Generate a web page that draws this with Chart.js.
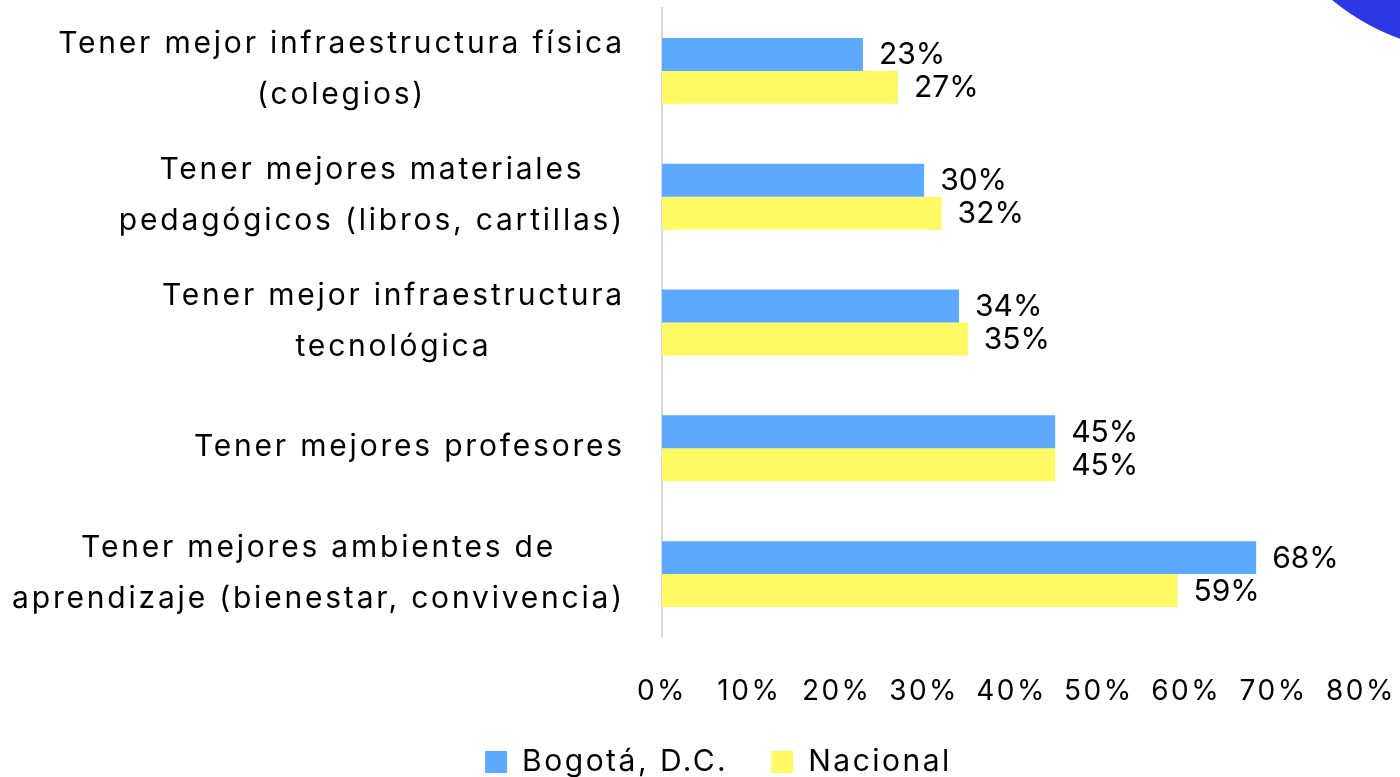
<!DOCTYPE html>
<html><head><meta charset="utf-8">
<script src="https://cdn.jsdelivr.net/npm/chart.js@4.4.1/dist/chart.umd.min.js"></script>
<style>html,body{margin:0;padding:0;background:#fff;overflow:hidden}#wrap{width:1400px;height:777px;position:relative}</style>
</head><body><div id="wrap"><canvas id="c" width="1400" height="777"></canvas></div>
<script>
const categories = [
  ["Tener mejor infraestructura física", "(colegios)"],
  ["Tener mejores materiales", "pedagógicos (libros, cartillas)"],
  ["Tener mejor infraestructura", "tecnológica"],
  ["Tener mejores profesores"],
  ["Tener mejores ambientes de", "aprendizaje (bienestar, convivencia)"]
];
const bogota = [23, 30, 34, 45, 68];
const nacional = [27, 32, 35, 45, 59];
const xTickValues = [0, 10, 20, 30, 40, 50, 60, 70, 80];
const seriesNames = ["Bogotá, D.C.", "Nacional"];

const FONT = "Inter, 'Liberation Sans', sans-serif";
const BLUE = '#5DA9FF';
const YELLOW = '#FFFA63';
const SPACING = '2.5px';

const spacingPlugin = {
  id: 'spacing',
  beforeLayout(chart) { chart.ctx.letterSpacing = SPACING; },
  beforeDraw(chart) { chart.ctx.letterSpacing = SPACING; }
};

const decoPlugin = {
  id: 'deco',
  beforeDraw(chart) {
    const ctx = chart.ctx;
    ctx.save();
    ctx.fillStyle = '#fff';
    ctx.fillRect(0, 0, chart.width, chart.height);
    ctx.fillStyle = '#2B38E3';
    ctx.beginPath();
    ctx.arc(1480, -180, 233, 0, Math.PI * 2);
    ctx.fill();
    ctx.restore();
  }
};

const yLabelPlugin = {
  id: 'yLabels',
  afterDraw(chart) {
    const ctx = chart.ctx;
    const ys = chart.scales.y;
    const right = chart.chartArea.left - 37;
    ctx.save();
    ctx.letterSpacing = '2.8px';
    ctx.font = '30px ' + FONT;
    ctx.fillStyle = '#000';
    ctx.textAlign = 'center';
    ctx.textBaseline = 'middle';
    categories.forEach((lines, i) => {
      const cy = ys.getPixelForValue(i);
      const w = Math.max(...lines.map(l => ctx.measureText(l).width));
      const cx = right - w / 2;
      lines.forEach((l, j) => {
        ctx.fillText(l, cx, cy - 1 + (j - (lines.length - 1) / 2) * 51);
      });
    });
    ctx.restore();
  }
};

const valueLabelPlugin = {
  id: 'valueLabels',
  afterDatasetsDraw(chart) {
    const ctx = chart.ctx;
    ctx.save();
    ctx.letterSpacing = '0px';
    ctx.font = '30px ' + FONT;
    ctx.fillStyle = '#000';
    ctx.textAlign = 'left';
    ctx.textBaseline = 'middle';
    chart.data.datasets.forEach((ds, di) => {
      const meta = chart.getDatasetMeta(di);
      meta.data.forEach((el, i) => {
        ctx.fillText(ds.data[i] + '%', el.x + 16, el.y + 1);
      });
    });
    ctx.restore();
  }
};

new Chart(document.getElementById('c'), {
  type: 'bar',
  data: {
    labels: categories,
    datasets: [
      { label: seriesNames[0], data: bogota, backgroundColor: BLUE, borderWidth: 0 },
      { label: seriesNames[1], data: nacional, backgroundColor: YELLOW, borderWidth: 0 }
    ]
  },
  options: {
    indexAxis: 'y',
    responsive: false,
    animation: false,
    devicePixelRatio: 1,
    layout: { padding: { left: 76, right: 39, top: 8, bottom: -10 } },
    datasets: { bar: { categoryPercentage: 0.524, barPercentage: 1 } },
    scales: {
      x: {
        min: 0, max: 80,
        afterBuildTicks(scale) { scale.ticks = xTickValues.map(v => ({ value: v })); },
        afterFit(scale) { scale.height = 67; scale.paddingLeft = 0; scale.paddingRight = 0; },
        ticks: {
          callback: v => v + '%',
          font: { family: FONT, size: 28 },
          color: '#000',
          padding: 38,
          maxRotation: 0,
          autoSkip: false
        },
        grid: { display: false, drawTicks: false },
        border: { display: false }
      },
      y: {
        afterFit(scale) { scale.width = 662 - 76; },
        ticks: { display: false },
        grid: { display: false, drawTicks: false },
        border: { display: true, color: '#D9D9D9', width: 2 }
      }
    },
    plugins: {
      legend: {
        position: 'bottom',
        labels: {
          boxWidth: 22, boxHeight: 22,
          padding: 43,
          color: '#000',
          font: { family: FONT, size: 30 }
        }
      },
      tooltip: { enabled: false }
    }
  },
  plugins: [spacingPlugin, decoPlugin, yLabelPlugin, valueLabelPlugin]
});
</script>
</body></html>
